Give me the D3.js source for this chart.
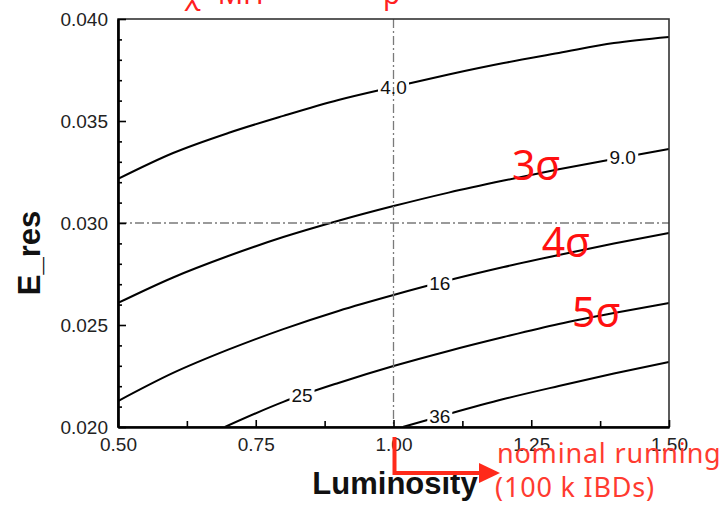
<!DOCTYPE html>
<html>
<head>
<meta charset="utf-8">
<script src="https://cdn.jsdelivr.net/npm/d3@7"></script>
<style>
  body { margin: 0; background: #fff; }
  svg { display: block; }
</style>
</head>
<body>
<svg id="chart" width="724" height="505"></svg>
<script>
// Luminosity grid (units of nominal running) shared by the full-width contours
const lumGrid = [0.5, 0.6, 0.7, 0.8, 0.9, 1.0, 1.1, 1.2, 1.3, 1.4, 1.5];

// Energy resolution along each Δχ² contour
const eres4  = [0.03216, 0.03343, 0.03441, 0.03525, 0.03603, 0.03667, 0.03728, 0.03784, 0.03833, 0.03882, 0.03912];
const eres9  = [0.02608, 0.02733, 0.02838, 0.02931, 0.03011, 0.03083, 0.03149, 0.03208, 0.03263, 0.03314, 0.03363];
const eres16 = [0.02127, 0.02265, 0.02379, 0.02480, 0.02569, 0.02647, 0.02719, 0.02784, 0.02843, 0.02899, 0.02951];

// Contours that enter through the lower edge of the plot
const lum25  = [0.694, 0.8, 0.9, 1.0, 1.1, 1.2, 1.3, 1.4, 1.5];
const eres25 = [0.0200, 0.02123, 0.02216, 0.02299, 0.02373, 0.02441, 0.02505, 0.02559, 0.02608];
const lum36  = [1.017, 1.1, 1.2, 1.3, 1.4, 1.5];
const eres36 = [0.0200, 0.02064, 0.02137, 0.02201, 0.02262, 0.02319];

// Contour level labels and where along luminosity they sit
const levelLabels = ["4.0", "9.0", "16", "25", "36"];
const labelLum    = [1.0, 1.416, 1.084, 0.834, 1.084];

// Axis ticks
const xTicks = [0.5, 0.75, 1.0, 1.25, 1.5];
const xMinor = [0.625, 0.875, 1.125, 1.375];
const yTicks = [0.020, 0.025, 0.030, 0.035, 0.040];
const yMinor = [0.021, 0.022, 0.023, 0.024, 0.026, 0.027, 0.028, 0.029,
                0.031, 0.032, 0.033, 0.034, 0.036, 0.037, 0.038, 0.039];

// Reference lines: nominal luminosity and target resolution
const refLum = 1.0;
const refRes = 0.030;

// Significance annotations (anchor = text centre / baseline)
const sigmaText = ["3σ", "4σ", "5σ"];
const sigmaLum  = [1.259, 1.313, 1.368];
const sigmaRes  = [0.03211, 0.02833, 0.02490];

const contours = [
  { lum: lumGrid, res: eres4 },
  { lum: lumGrid, res: eres9 },
  { lum: lumGrid, res: eres16 },
  { lum: lum25,   res: eres25 },
  { lum: lum36,   res: eres36 }
];

const svg = d3.select("#chart");
const plotL = 118, plotR = 669, plotT = 19, plotB = 427;

const x = d3.scaleLinear().domain([0.5, 1.5]).range([plotL, plotR]);
const y = d3.scaleLinear().domain([0.020, 0.040]).range([plotB, plotT]);

const tickFont = "Liberation Sans, Arial, sans-serif";

svg.append("defs").append("clipPath").attr("id", "plotClip")
  .append("rect").attr("x", plotL).attr("y", plotT)
  .attr("width", plotR - plotL).attr("height", plotB - plotT);

// Contour lines
const line = d3.line()
  .x(d => x(d[0])).y(d => y(d[1]))
  .curve(d3.curveMonotoneX);

const plot = svg.append("g").attr("clip-path", "url(#plotClip)");
contours.forEach(c => {
  const pts = c.lum.map((l, i) => [l, c.res[i]]);
  plot.append("path")
    .attr("d", line(pts))
    .attr("fill", "none")
    .attr("stroke", "#000")
    .attr("stroke-width", 2);
});

// Gaps in the contours where level labels go
function interp(lums, vals, l) {
  for (let i = 0; i < lums.length - 1; i++) {
    if (l >= lums[i] && l <= lums[i + 1]) {
      const t = (l - lums[i]) / (lums[i + 1] - lums[i]);
      return vals[i] + t * (vals[i + 1] - vals[i]);
    }
  }
  return vals[vals.length - 1];
}

const labelPos = contours.map((c, i) => ({
  text: levelLabels[i],
  px: x(labelLum[i]),
  py: y(interp(c.lum, c.res, labelLum[i]))
}));

labelPos.forEach(p => {
  const w = p.text.length === 3 ? 31 : 25;
  svg.append("rect")
    .attr("x", p.px - w / 2).attr("y", p.py - 8)
    .attr("width", w).attr("height", 16)
    .attr("fill", "#fff");
});

// Dash-dot reference lines
svg.append("line")
  .attr("x1", x(refLum)).attr("x2", x(refLum))
  .attr("y1", plotT).attr("y2", plotB)
  .attr("stroke", "#7a7a7a").attr("stroke-width", 1.3)
  .attr("stroke-dasharray", "9,3,2,3");
svg.append("line")
  .attr("x1", plotL).attr("x2", plotR)
  .attr("y1", y(refRes)).attr("y2", y(refRes))
  .attr("stroke", "#7a7a7a").attr("stroke-width", 1.3)
  .attr("stroke-dasharray", "9,3,2,3");

// Level labels
labelPos.forEach(p => {
  svg.append("text")
    .attr("x", p.px).attr("y", p.py)
    .attr("dy", "0.36em")
    .attr("text-anchor", "middle")
    .attr("font-family", tickFont)
    .attr("font-size", 19)
    .attr("fill", "#111")
    .text(p.text);
});

// Frame (top and right)
svg.append("rect")
  .attr("x", plotL).attr("y", plotT)
  .attr("width", plotR - plotL).attr("height", plotB - plotT)
  .attr("fill", "none").attr("stroke", "#333").attr("stroke-width", 1.6);

// Axes with inward ticks
function styleAxis(g) {
  g.select(".domain").attr("stroke", "#000").attr("stroke-width", 2.2);
  g.selectAll(".tick line").attr("stroke", "#000").attr("stroke-width", 1.6);
  g.selectAll("text").attr("font-family", tickFont).attr("font-size", 19).attr("fill", "#222");
}

svg.append("g").attr("transform", `translate(${plotL},0)`)
  .call(d3.axisLeft(y).tickValues(yMinor).tickSize(-4).tickFormat("").tickSizeOuter(0))
  .call(styleAxis);
svg.append("g").attr("transform", `translate(${plotL},0)`)
  .call(d3.axisLeft(y).tickValues(yTicks).tickSize(-8).tickPadding(10)
    .tickFormat(d3.format(".3f")).tickSizeOuter(0))
  .call(styleAxis);

svg.append("g").attr("transform", `translate(0,${plotB})`)
  .call(d3.axisBottom(x).tickValues(xMinor).tickSize(-6).tickFormat("").tickSizeOuter(0))
  .call(styleAxis);
svg.append("g").attr("transform", `translate(0,${plotB})`)
  .call(d3.axisBottom(x).tickValues(xTicks).tickSize(-7).tickPadding(11)
    .tickFormat(d3.format(".2f")).tickSizeOuter(0))
  .call(styleAxis);

// Axis titles
svg.append("text")
  .attr("x", 395).attr("y", 494)
  .attr("text-anchor", "middle")
  .attr("font-family", tickFont).attr("font-weight", "bold")
  .attr("font-size", 31).attr("fill", "#111")
  .text("Luminosity");

svg.append("text")
  .attr("transform", "translate(40,253) rotate(-90)")
  .attr("text-anchor", "middle")
  .attr("font-family", tickFont).attr("font-weight", "bold")
  .attr("font-size", 31).attr("fill", "#111")
  .text("E_res");

// Significance annotations
const redFont = "Noto Sans, Open Sans, sans-serif";
sigmaText.forEach((t, i) => {
  svg.append("text")
    .attr("x", x(sigmaLum[i])).attr("y", y(sigmaRes[i]))
    .attr("text-anchor", "middle")
    .attr("font-family", redFont)
    .attr("font-size", 41)
    .attr("fill", "#ff1010")
    .text(t);
});

// Nominal-running arrow
const arrowColor = "#ff2a1a";
svg.append("path")
  .attr("d", `M${x(refLum) + 1},437 V473 H482`)
  .attr("fill", "none").attr("stroke", arrowColor).attr("stroke-width", 4);
svg.append("path")
  .attr("d", "M479,463 L500,473 L479,483 Z")
  .attr("fill", arrowColor);

svg.append("text")
  .attr("x", 497).attr("y", 463)
  .attr("font-family", redFont).attr("font-size", 27)
  .attr("letter-spacing", 0.8)
  .attr("fill", "#ff3b30")
  .text("nominal running");
svg.append("text")
  .attr("x", 495).attr("y", 497)
  .attr("font-family", redFont).attr("font-size", 27)
  .attr("letter-spacing", 0.8)
  .attr("fill", "#ff3b30")
  .text("(100 k IBDs)");

// Title text running off the top edge
svg.append("text")
  .attr("x", 184).attr("y", 4)
  .attr("font-family", redFont).attr("font-size", 28)
  .attr("fill", "#ff2020")
  .text("χ² MH");
svg.append("text")
  .attr("x", 383).attr("y", 4)
  .attr("font-family", redFont).attr("font-size", 28)
  .attr("fill", "#ff2020")
  .text("p");
</script>
</body>
</html>
